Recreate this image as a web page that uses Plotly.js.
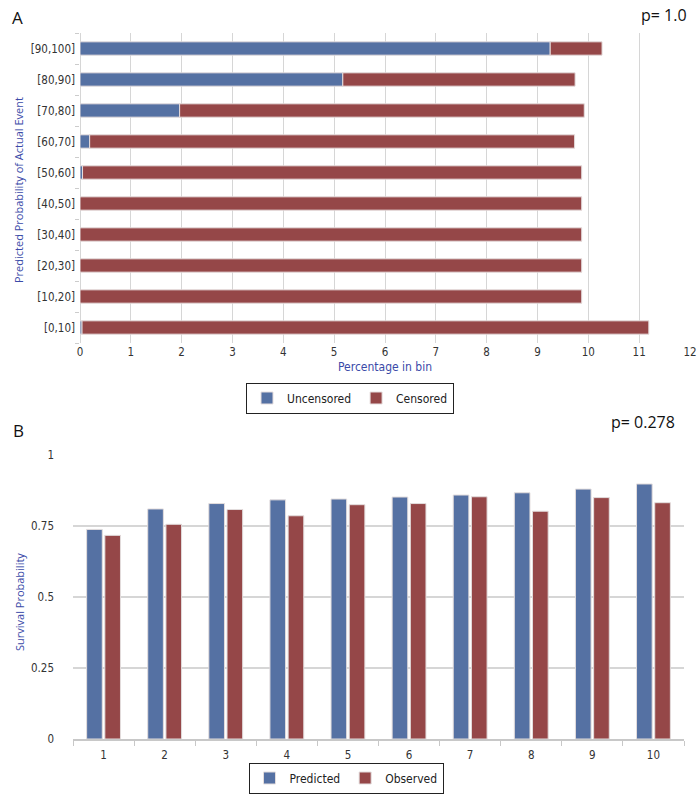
<!DOCTYPE html>
<html>
<head>
<meta charset="utf-8">
<script src="https://cdn.plot.ly/plotly-3.0.1.min.js"></script>
<style>html,body{margin:0;padding:0;background:#fff;}#chart{width:699px;height:795px;}</style>
</head>
<body>
<div id="chart"></div>
<script>
// Panel A data
const binLabels = ["[0,10]","[10,20]","[20,30]","[30,40]","[40,50]","[50,60]","[60,70]","[70,80]","[80,90]","[90,100]"];
const uncensored = [0.04, 0.0, 0.0, 0.0, 0.0, 0.05, 0.19, 1.96, 5.17, 9.25];
const censored   = [11.15, 9.87, 9.87, 9.87, 9.87, 9.82, 9.54, 7.96, 4.57, 1.02];
// Panel B data
const groups = ["1","2","3","4","5","6","7","8","9","10"];
const predicted = [0.738, 0.810, 0.829, 0.842, 0.845, 0.852, 0.859, 0.867, 0.880, 0.898];
const observed  = [0.717, 0.756, 0.808, 0.786, 0.825, 0.829, 0.853, 0.802, 0.850, 0.832];

const BLUE = "#5571a3", RED = "#954748";
const narrow = "Liberation Sans Narrow, DejaVu Sans Condensed, Arial Narrow, sans-serif";
const W = 699, H = 795;
const px = v => v / W, py = v => 1 - v / H;

const traces = [
  {type:"bar", orientation:"h", name:"Uncensored", y:binLabels, x:uncensored,
   xaxis:"x", yaxis:"y", width:0.43, marker:{color:BLUE, line:{color:"#e6dede", width:1}},
   legend:"legend", hoverinfo:"x+y"},
  {type:"bar", orientation:"h", name:"Censored", y:binLabels, x:censored,
   base: uncensored.slice(), xaxis:"x", yaxis:"y", width:0.43,
   marker:{color:RED, line:{color:"#e6dede", width:1}}, legend:"legend", hoverinfo:"x+y"},
  {type:"bar", name:"Predicted", x:groups, y:predicted, xaxis:"x2", yaxis:"y2",
   width:0.256, offset:-0.277, marker:{color:BLUE, line:{color:"#e3dddd", width:1}}, legend:"legend2"},
  {type:"bar", name:"Observed", x:groups, y:observed, xaxis:"x2", yaxis:"y2",
   width:0.256, offset:0.021, marker:{color:RED, line:{color:"#e3dddd", width:1}}, legend:"legend2"}
];

const legendStyle = {
  orientation:"h", xanchor:"center", yanchor:"middle",
  bordercolor:"#222", borderwidth:1, bgcolor:"#fff",
  font:{family:narrow, size:12, color:"#222"}, itemwidth:30, tracegroupgap:0,
  entrywidthmode:"pixels"
};

const ann = (text, x, y, size, color, fam, angle) => ({
  text, x:px(x), y:py(y), xref:"paper", yref:"paper", showarrow:false,
  xanchor:"center", yanchor:"middle", textangle:angle || 0,
  font:{family:fam, size, color}
});

const layout = {
  width:W, height:H, margin:{l:0,r:0,t:0,b:0},
  paper_bgcolor:"#fff", plot_bgcolor:"#fff",
  barmode:"overlay",
  font:{family:narrow, size:11, color:"#333"},
  xaxis:{domain:[px(80), px(690)], range:[0,12], dtick:1, tick0:0,
    showgrid:true, gridcolor:"#d6d6d6", gridwidth:1, zeroline:true, zerolinecolor:"#d6d6d6",
    showline:false, ticks:"", anchor:"y", tickfont:{family:narrow, size:11.5, color:"#333"}},
  yaxis:{domain:[py(343), py(33)], type:"category", categoryorder:"array", categoryarray:binLabels,
    range:[-0.5, 9.5], showgrid:false, zeroline:false, showline:false,
    ticks:"outside", tickson:"boundaries", ticklen:4, tickcolor:"#cccccc", anchor:"x",
    ticklabelstandoff:4, tickfont:{family:narrow, size:11.5, color:"#333"}},
  xaxis2:{domain:[px(73), px(684)], type:"category", anchor:"y2",
    showgrid:false, zeroline:false, showline:true, linecolor:"#c8c8c8", linewidth:1.5,
    ticks:"outside", tickson:"boundaries", ticklen:5, tickcolor:"#c8c8c8",
    ticklabelstandoff:5, tickfont:{family:narrow, size:11.5, color:"#333"}},
  yaxis2:{domain:[py(739), py(455)], range:[0,1], dtick:0.25, tick0:0, anchor:"x2",
    showgrid:true, gridcolor:"#d6d6d6", gridwidth:1.5, zeroline:false, showline:false,
    ticks:"", ticklabelstandoff:18, tickfont:{family:narrow, size:11.5, color:"#333"}},
  legend: Object.assign({}, legendStyle, {x:px(350), y:py(398)}),
  legend2: Object.assign({}, legendStyle, {x:px(346), y:py(778)}),
  annotations:[
    ann("A", 17, 18, 17, "#111", "Open Sans, sans-serif"),
    ann("p= 1.0", 664, 15, 16, "#111", "Open Sans, sans-serif"),
    ann("B", 18, 430, 17, "#111", "Open Sans, sans-serif"),
    ann("p= 0.278", 643, 422, 16, "#111", "Open Sans, sans-serif"),
    ann("Percentage in bin", 385, 367, 12, "#3a4aa8", narrow),
    ann("Predicted Probability of Actual Event", 19, 190, 11, "#3a4aa8", "Open Sans, sans-serif", -90),
    ann("Survival Probability", 19, 602, 11, "#3a4aa8", "Open Sans, sans-serif", -90)
  ]
};

Plotly.newPlot("chart", traces, layout, {displayModeBar:false, staticPlot:true});
</script>
</body>
</html>
